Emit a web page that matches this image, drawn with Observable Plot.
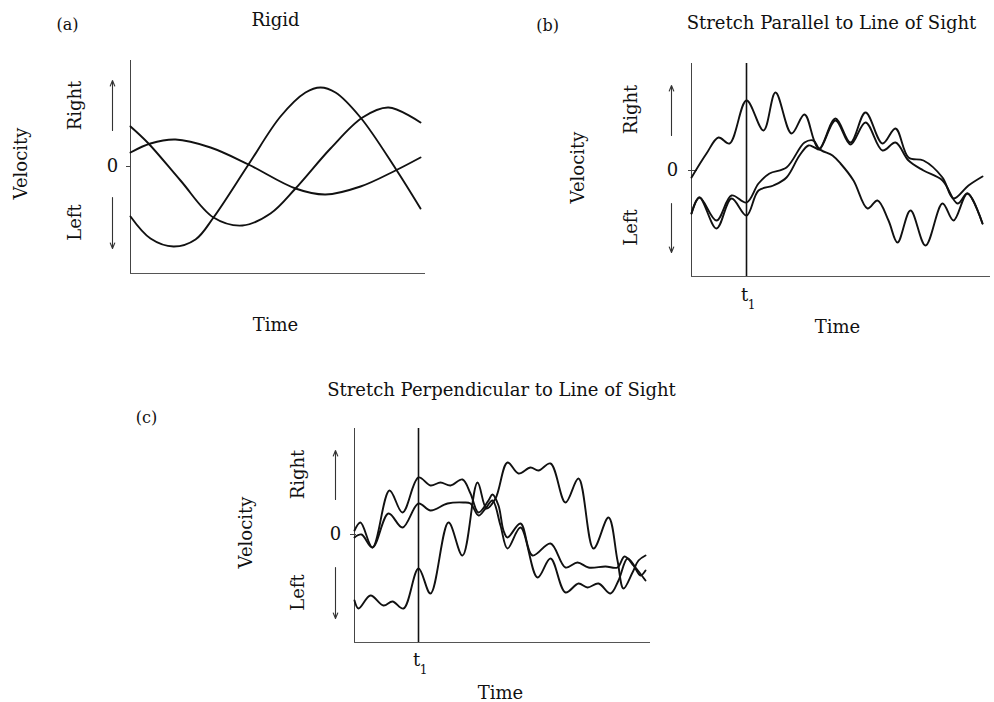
<!DOCTYPE html>
<html>
<head>
<meta charset="utf-8">
<script src="https://cdn.jsdelivr.net/npm/d3@7"></script>
<script src="https://cdn.jsdelivr.net/npm/@observablehq/plot@0.6"></script>
<style>
  body { margin: 0; background: #fff; }
  #fig { position: relative; width: 994px; height: 702px; background: #fff; }
  #fig > .panel { position: absolute; }
</style>
</head>
<body>
<div id="fig"></div>
<script>
// ---------- DATA: [time, velocity] pairs ----------
// (a) Rigid
const rigid1 = [[0,40],[18,23],[50,-14],[83,-51],[112,-59],[140,-47],[165,-22],[200,18],[232,49],[258,59],[290,44]];
const rigid2 = [[0,14],[20,23],[45,27],[80,19],[118,2],[165,-22],[195,-28],[230,-20],[265,-4],[290,9]];
const rigid3 = [[0,-50],[20,-72],[43,-80],[65,-73],[83,-51],[118,2],[150,50],[175,74],[190,79],[205,74],[230,49],[265,-2],[290,-42]];

// (b) Stretch parallel to line of sight
const parallel1 = [[0,-7],[15,17],[27,33],[38,27],[55,70],[72,40],[84,78],[100,37],[113,56],[126,23],[141,15],[149,7],[162,-10],[176,-38],[186,-30],[197,-50],[206,-72],[219,-40],[234,-75],[251,-33],[262,-50],[276,-23],[291,-53]];
const parallel2 = [[0,-43],[8,-27],[25,-50],[40,-25],[55,-32],[67,-13],[78,-3],[95,3],[113,28],[122,30],[128,22],[144,52],[159,28],[174,58],[191,27],[204,42],[217,13],[232,10],[251,-7],[262,-28],[277,-15],[291,-6]];
const parallel3 = [[0,-43],[8,-27],[25,-58],[40,-28],[55,-45],[67,-20],[82,-15],[95,-7],[108,15],[117,25],[123,23],[128,21],[144,50],[159,26],[174,48],[191,20],[204,28],[217,10],[232,0],[251,-10],[266,-33],[276,-23],[291,-53]];
const parallelT1 = [55];

// (c) Stretch perpendicular to line of sight
const perp1 = [[0,4],[6,12],[18,-13],[35,44],[48,22],[64,57],[76,49],[86,52],[96,49],[108,55],[116,41],[124,22],[134,34],[138,40],[144,29],[149,4],[153,-3],[166,11],[178,-21],[196,-9],[211,-33],[223,-28],[234,-33],[251,-32],[263,-33],[270,-22],[279,-31],[286,-41],[291,-36]];
const perp2 = [[0,-3],[7,0],[18,-13],[34,21],[48,7],[64,31],[76,24],[93,31],[109,32],[116,31],[124,19],[131,26],[138,34],[146,9],[153,-14],[166,7],[183,-43],[196,-24],[211,-58],[224,-49],[233,-53],[244,-49],[256,-59],[264,-46],[273,-24],[281,-33],[291,-46]];
const perp3 = [[0,-66],[4,-74],[16,-61],[29,-71],[38,-67],[49,-74],[64,-34],[76,-59],[94,12],[108,-21],[123,52],[132,26],[141,36],[153,72],[164,61],[176,67],[184,64],[196,71],[211,32],[224,56],[239,-14],[254,17],[263,-26],[269,-54],[278,-38],[284,-26],[291,-21]];
const perpT1 = [64];

// ---------- LAYOUT ----------
const panels = [
  {left:0, top:0, width:470, height:345, ml:130, mt:60, mr:45, mb:72,
   xDomain:[0,295], yDomain:[-107,106], series:[rigid1,rigid2,rigid3], t1:[],
   tag:["(a)",67,29], title:["Rigid",275,25], time:["Time",275,330],
   vel:[26,163], right:[80,105], leftL:[80,222], zeroDx:-18, tick:[-4,0],
   arrowX:112, up:[130,80], down:[197,248]},
  {left:500, top:0, width:494, height:345, ml:191, mt:63, mr:4, mb:69,
   xDomain:[0,299], yDomain:[-106,107], series:[parallel1,parallel2,parallel3], t1:parallelT1,
   tag:["(b)",47,30], title:["Stretch Parallel to Line of Sight",331,28], time:["Time",337,332],
   vel:[83,167], right:[136,109], leftL:[136,227], zeroDx:-19, tick:[-3,6],
   arrowX:171, up:[135,85], down:[203,252], tDy:[24,32]},
  {left:100, top:360, width:600, height:342, ml:254, mt:68, mr:50, mb:60,
   xDomain:[0,296], yDomain:[-108,106], series:[perp1,perp2,perp3], t1:perpT1,
   tag:["(c)",46,62], title:["Stretch Perpendicular to Line of Sight",401,35], time:["Time",400,338],
   vel:[151,172], right:[203,114], leftL:[203,232], zeroDx:-19, tick:[-4,2],
   arrowX:235, up:[139,90], down:[207,258], tDy:[23,31]}
];

const fig = document.getElementById("fig");
const INK = "#111";

for (const p of panels) {
  const px2x = px => p.xDomain[0] + (px - p.ml) * (p.xDomain[1] - p.xDomain[0]) / (p.width - p.ml - p.mr);
  const py2y = py => p.yDomain[1] - (py - p.mt) * (p.yDomain[1] - p.yDomain[0]) / (p.height - p.mt - p.mb);
  const lab = (text, px, py, o = {}) => Plot.text([text], {
    frameAnchor: "top-left", dx: px - p.ml, dy: py - p.mt, text: d => d,
    textAnchor: "middle", lineAnchor: "bottom", fill: INK, fontSize: o.size || 18, rotate: o.rotate || 0
  });
  const marks = [
    Plot.ruleX([p.xDomain[0]], {stroke: "#444", strokeWidth: 1}),
    Plot.ruleY([p.yDomain[0]], {stroke: "#555", strokeWidth: 1}),
    Plot.ruleY([0], {x1: () => px2x(p.ml + p.tick[0]), x2: () => px2x(p.ml + p.tick[1]), stroke: "#444", strokeWidth: 1}),
    Plot.ruleX(p.t1, {stroke: INK, strokeWidth: 1.6}),
    ...p.series.map(s => Plot.line(s, {x: d => d[0], y: d => d[1], curve: "catmull-rom", stroke: INK, strokeWidth: 1.9})),
    Plot.arrow([0], {x1: () => px2x(p.arrowX), x2: () => px2x(p.arrowX), y1: () => py2y(p.up[0]), y2: () => py2y(p.up[1]),
      stroke: "#333", strokeWidth: 1.1, headLength: 8, headAngle: 45}),
    Plot.arrow([0], {x1: () => px2x(p.arrowX), x2: () => px2x(p.arrowX), y1: () => py2y(p.down[0]), y2: () => py2y(p.down[1]),
      stroke: "#333", strokeWidth: 1.1, headLength: 8, headAngle: 45}),
    Plot.text(["0"], {y: () => 0, frameAnchor: "left", dx: p.zeroDx, text: d => d, textAnchor: "middle", lineAnchor: "middle", fill: INK, fontSize: 18}),
    lab(p.tag[0], p.tag[1], p.tag[2], {size: 16}),
    lab(p.title[0], p.title[1], p.title[2]),
    lab(p.time[0], p.time[1], p.time[2]),
    lab("Velocity", p.vel[0], p.vel[1], {rotate: -90}),
    lab("Right", p.right[0], p.right[1], {rotate: -90}),
    lab("Left", p.leftL[0], p.leftL[1], {rotate: -90})
  ];
  if (p.t1.length) {
    marks.push(Plot.text(p.t1, {x: d => d, frameAnchor: "bottom", dx: -2, dy: p.tDy[0], text: () => "t", textAnchor: "middle", lineAnchor: "bottom", fill: INK, fontSize: 18}));
    marks.push(Plot.text(p.t1, {x: d => d, frameAnchor: "bottom", dx: 5, dy: p.tDy[1], text: () => "1", textAnchor: "middle", lineAnchor: "bottom", fill: INK, fontSize: 12}));
  }
  const chart = Plot.plot({
    width: p.width, height: p.height,
    marginLeft: p.ml, marginTop: p.mt, marginRight: p.mr, marginBottom: p.mb,
    x: {domain: p.xDomain, axis: null},
    y: {domain: p.yDomain, axis: null},
    style: {background: "transparent", fontFamily: "'DejaVu Serif', serif", fontSize: "18px", color: INK, overflow: "visible"},
    marks
  });
  const div = document.createElement("div");
  div.className = "panel";
  div.style.left = p.left + "px";
  div.style.top = p.top + "px";
  div.appendChild(chart);
  fig.appendChild(div);
}
</script>
</body>
</html>
